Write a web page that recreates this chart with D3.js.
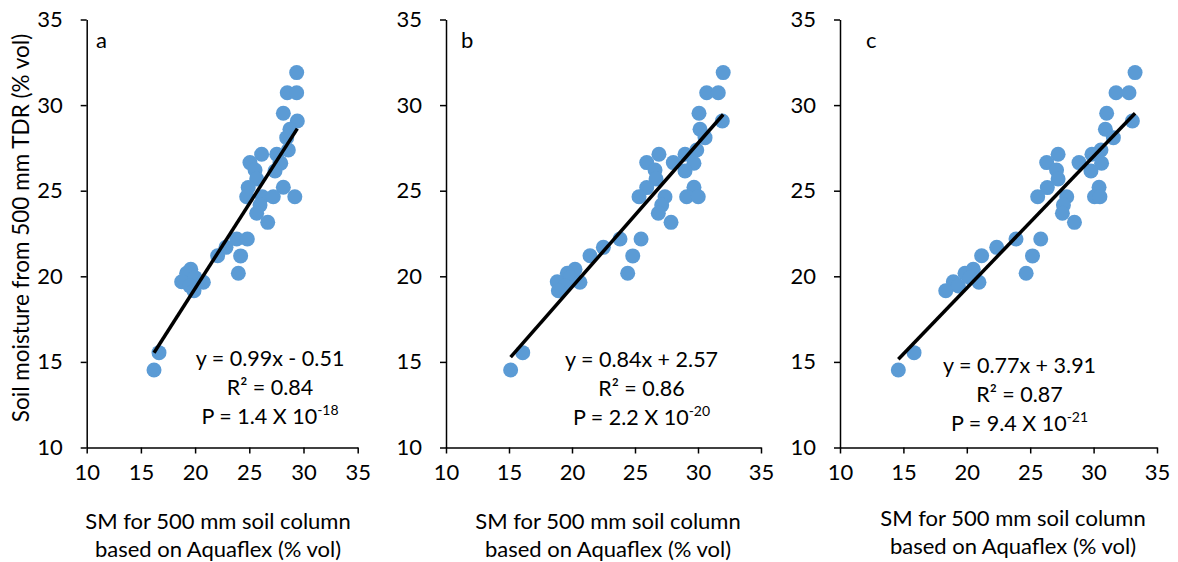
<!DOCTYPE html>
<html>
<head>
<meta charset="utf-8">
<script src="https://cdn.jsdelivr.net/npm/d3@7"></script>
<style>
  body { margin: 0; background: #fff; }
  text { font-family: Lato, "Open Sans", sans-serif; fill: #000; }
</style>
</head>
<body>
<div id="chart"></div>
<script>
// TDR soil moisture (shared y values for the three panels)
const tdr = [31.9, 30.72, 30.72, 29.52, 29.07, 28.59, 28.1, 27.38, 27.13, 27.13,
  26.64, 26.64, 26.6, 26.21, 26.15, 25.68, 25.18, 25.2, 24.65, 24.65,
  24.65, 24.65, 24.16, 23.68, 23.15, 22.18, 22.18, 21.69, 21.2, 21.19,
  20.18, 20.41, 20.18, 19.92, 19.65, 19.68, 19.43, 19.16, 15.54, 14.53];
// Aquaflex values, one list per panel
const aquaA = [29.37, 28.5, 29.37, 28.14, 29.43, 28.75, 28.45, 28.6, 26.14, 27.53,
  25.06, 27.83, 27.9, 25.53, 27.37, 25.68, 24.9, 28.14, 24.76, 26.2,
  27.21, 29.2, 25.99, 25.68, 26.7, 23.84, 24.82, 22.85, 22.08, 24.2,
  23.99, 19.6, 19.22, 19.99, 20.76, 18.76, 19.53, 19.9, 16.67, 16.21];
const aquaB = [32.0, 30.69, 31.61, 30.08, 31.93, 30.16, 30.56, 29.9, 26.9, 28.97,
  25.93, 28.04, 29.68, 26.59, 28.97, 26.67, 25.93, 29.68, 25.32, 27.38,
  29.1, 30.02, 27.12, 26.85, 27.86, 23.81, 25.48, 22.49, 21.43, 24.82,
  24.42, 20.24, 19.63, 19.84, 20.63, 18.83, 19.44, 18.92, 16.09, 15.13];
const aquaC = [33.27, 31.77, 32.79, 31.03, 33.06, 30.93, 31.56, 30.58, 27.2, 29.87,
  26.3, 28.85, 30.63, 27.08, 29.79, 27.2, 26.35, 30.43, 25.59, 27.88,
  30.07, 30.5, 27.62, 27.54, 28.49, 23.88, 25.83, 22.36, 21.17, 25.18,
  24.68, 20.51, 19.86, 20.25, 20.96, 18.94, 19.34, 18.34, 15.84, 14.6];

const panelLetters = ["a", "b", "c"];
const slopes = [0.99, 0.84, 0.77];
const intercepts = [-0.51, 2.57, 3.91];
const eqLabels = ["y = 0.99x - 0.51", "y = 0.84x + 2.57", "y = 0.77x + 3.91"];
const r2Labels = ["0.84", "0.86", "0.87"];
const pMantissa = ["1.4", "2.2", "9.4"];
const pExponent = ["-18", "-20", "-21"];
const tickValues = [10, 15, 20, 25, 30, 35];
const yTitle = "Soil moisture from 500 mm TDR (% vol)";
const xTitle = ["SM for 500 mm soil column", "based on Aquaflex (% vol)"];

const width = 1178, height = 562;
const fontSize = 22;
const eqSize = 21.5;
const dotColor = "#5B9BD5";
const font = "Lato, 'Open Sans', sans-serif";

// layout of each panel (pixel frame)
const frames = [
  {left: 86.7, right: 357.7, titleX: 218, titleY: 521, eqX: 270, eqY: 366, letterX: 96},
  {left: 446, right: 761, titleX: 608, titleY: 521, eqX: 641.5, eqY: 367, letterX: 461},
  {left: 840, right: 1157, titleX: 1013, titleY: 518, eqX: 1019.5, eqY: 373, letterX: 866}
];
const plotTop = 19.5, plotBottom = 447.5;

const svg = d3.select("#chart").append("svg")
  .attr("width", width)
  .attr("height", height)
  .attr("viewBox", [0, 0, width, height]);

const xs = [aquaA, aquaB, aquaC];

frames.forEach((f, i) => {
  const data = xs[i].map((v, k) => ({x: v, y: tdr[k]}));
  const x = d3.scaleLinear().domain([10, 35]).range([f.left, f.right]);
  const y = d3.scaleLinear().domain([10, 35]).range([plotBottom, plotTop]);
  const g = svg.append("g");

  // y axis
  g.append("g")
    .attr("transform", `translate(${f.left},0)`)
    .call(d3.axisLeft(y).tickValues(tickValues).tickSize(6).tickPadding(18).tickSizeOuter(0))
    .call(a => a.selectAll("line, path").attr("stroke", "#000").attr("stroke-width", 1.5))
    .call(a => a.selectAll(".tick text").attr("font-size", fontSize).attr("fill", "#000")
      .style("font-family", font));

  // x axis
  g.append("g")
    .attr("transform", `translate(0,${plotBottom})`)
    .call(d3.axisBottom(x).tickValues(tickValues).tickSize(6).tickSizeOuter(0))
    .call(a => a.selectAll("line, path").attr("stroke", "#000").attr("stroke-width", 1.5))
    .call(a => a.selectAll(".tick text").attr("font-size", fontSize).attr("fill", "#000")
      .attr("y", 25).attr("dy", "0.35em")
      .style("font-family", font));

  // points
  g.append("g")
    .selectAll("circle")
    .data(data)
    .join("circle")
    .attr("cx", d => x(d.x))
    .attr("cy", d => y(d.y))
    .attr("r", 7.5)
    .attr("fill", dotColor);

  // trend line over the data range
  const [x0, x1] = d3.extent(data, d => d.x);
  g.append("line")
    .attr("x1", x(x0)).attr("y1", y(slopes[i] * x0 + intercepts[i]))
    .attr("x2", x(x1)).attr("y2", y(slopes[i] * x1 + intercepts[i]))
    .attr("stroke", "#000")
    .attr("stroke-width", 3.5);

  // panel letter
  g.append("text")
    .attr("x", f.letterX).attr("y", 48)
    .attr("font-size", fontSize)
    .text(panelLetters[i]);

  // equation, R2, P
  g.append("text")
    .attr("x", f.eqX).attr("y", f.eqY)
    .attr("text-anchor", "middle")
    .attr("font-size", eqSize)
    .text(eqLabels[i]);
  g.append("text")
    .attr("x", f.eqX).attr("y", f.eqY + 29)
    .attr("text-anchor", "middle")
    .attr("font-size", eqSize)
    .text("R² = " + r2Labels[i]);
  const p = g.append("text")
    .attr("x", f.eqX).attr("y", f.eqY + 58)
    .attr("text-anchor", "middle")
    .attr("font-size", eqSize);
  p.append("tspan").text(`P = ${pMantissa[i]} X 10`);
  p.append("tspan").attr("font-size", 14).attr("dy", -9).text(pExponent[i]);

  // x title (two lines)
  g.append("text")
    .attr("x", f.titleX).attr("y", f.titleY)
    .attr("text-anchor", "middle")
    .attr("font-size", fontSize)
    .selectAll("tspan")
    .data(xTitle)
    .join("tspan")
    .attr("x", f.titleX)
    .attr("dy", (d, k) => k === 0 ? "0.35em" : 28)
    .text(d => d);
});

// y title, only on first panel
svg.append("text")
  .attr("transform", "rotate(-90)")
  .attr("x", -228)
  .attr("y", 21)
  .attr("dy", "0.35em")
  .attr("text-anchor", "middle")
  .attr("font-size", 22.5)
  .text(yTitle);
</script>
</body>
</html>
